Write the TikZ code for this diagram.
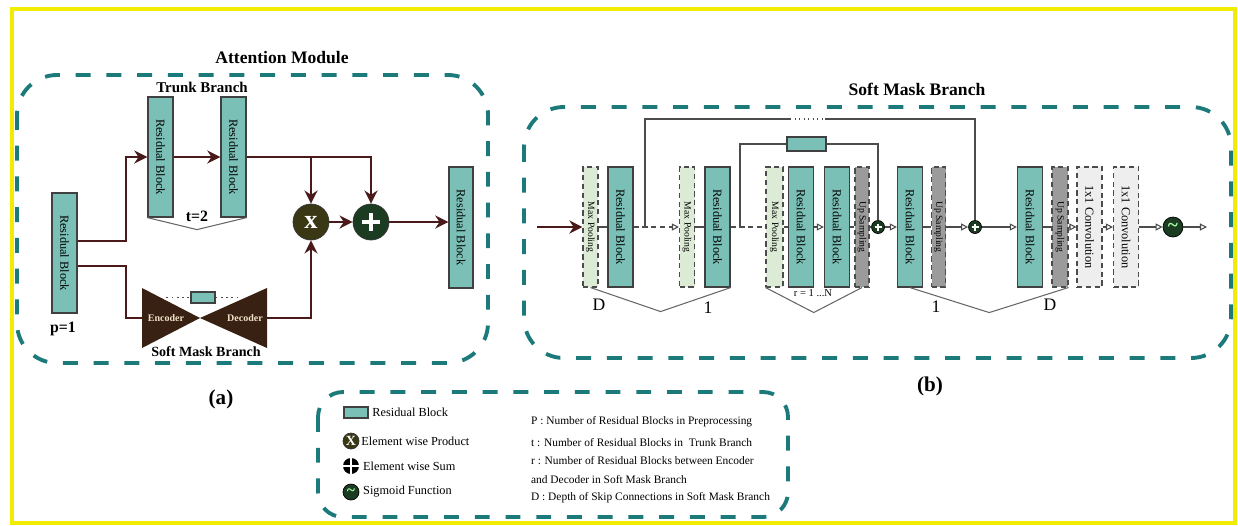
\documentclass[tikz,border=0pt]{standalone}
\usepackage{fontspec}
\setmainfont{Liberation Serif}
\usepackage{graphicx}
\usetikzlibrary{arrows.meta, calc, positioning}

\definecolor{frameyel}{RGB}{242,236,0}
\definecolor{tealdash}{RGB}{28,122,122}
\definecolor{resfill}{RGB}{122,192,182}
\definecolor{poolfill}{RGB}{220,235,214}
\definecolor{upfill}{RGB}{155,155,155}
\definecolor{convfill}{RGB}{238,238,238}
\definecolor{arrowred}{RGB}{74,26,26}
\definecolor{mulfill}{RGB}{58,56,20}
\definecolor{addfill}{RGB}{28,60,34}
\definecolor{encfill}{RGB}{56,32,18}
\definecolor{enctext}{RGB}{240,225,200}

\newcommand{\vtxt}[1]{\rotatebox{-90}{#1}}

\begin{document}
\begin{tikzpicture}[
    x=0.02cm, y=-0.02cm,
    resblk/.style={rectangle, draw=black!75, fill=resfill, line width=0.7pt,
                minimum width=0.5cm, minimum height=2.4cm, inner sep=0pt,
                font=\fontsize{7}{8}\selectfont},
    poolblk/.style={rectangle, draw=black!70, densely dashed, fill=poolfill,
                line width=0.6pt, minimum width=0.3cm, minimum height=2.4cm,
                inner sep=0pt, font=\fontsize{5.5}{6}\selectfont},
    upblk/.style={poolblk, fill=upfill, minimum width=0.28cm},
    convblk/.style={poolblk, fill=convfill, minimum width=0.5cm,
                font=\fontsize{7}{8}\selectfont},
    opcirc/.style={circle, draw=black!80, inner sep=0pt, text=white},
    pluscirc/.style={circle, draw=black, fill=addfill, inner sep=0pt,
                minimum size=0.26cm,
                path picture={\draw[white, line width=0.9pt]
                  ([xshift=-0.07cm]path picture bounding box.center) --
                  ([xshift=0.07cm]path picture bounding box.center)
                  ([yshift=-0.07cm]path picture bounding box.center) --
                  ([yshift=0.07cm]path picture bounding box.center);}},
    sumicon/.style={circle, fill=black, inner sep=0pt, minimum size=0.32cm,
                path picture={\draw[white, line width=1pt]
                  (path picture bounding box.north) -- (path picture bounding box.south)
                  (path picture bounding box.west) -- (path picture bounding box.east);}},
    sigcirc/.style={circle, draw=black, fill=addfill, inner sep=0pt,
                minimum size=0.4cm, text=green!35!white,
                font=\bfseries\fontsize{11}{11}\selectfont},
    outerbox/.style={draw=tealdash, line width=2.2pt,
                dash pattern=on 8.5pt off 9pt, rounded corners=0.8cm},
    conA/.style={-{Stealth[length=7.5pt,width=7.5pt]}, line width=1.1pt, arrowred},
    lineA/.style={line width=1.1pt, arrowred},
    conB/.style={-{Triangle[open,length=4pt,width=4pt]}, line width=0.6pt, black!70},
    lineB/.style={line width=0.6pt, black!70},
    brk/.style={line width=0.6pt, black!60},
    ttl/.style={font=\bfseries\fontsize{10}{12}\selectfont},
    numlbl/.style={font=\fontsize{10}{12}\selectfont, inner sep=0pt},
    lgd/.style={anchor=west, font=\fontsize{6.5}{8}\selectfont, inner sep=1pt},
    lgdl/.style={font=\fontsize{7}{8}\selectfont, inner sep=1pt},
]
\useasboundingbox (0,0) rectangle (1238,525);
\draw[frameyel, line width=2.4pt] (12,9) rectangle (1235,523);

% ---- (a) attention module
\node[ttl] (attTitle) at (282,58) {Attention Module};
\draw[outerbox] (17,75) rectangle (488,363);
\node[ttl, font=\bfseries\fontsize{8.5}{10}\selectfont] (trunkTitle) at (202,87) {Trunk Branch};

\node[resblk] (rbP)  at (64.5,253) {\vtxt{Residual Block}};
\node[resblk] (rbT1) at (160.5,157) {\vtxt{Residual Block}};
\node[resblk] (rbT2) at (233.5,157) {\vtxt{Residual Block}};
\node[resblk, minimum width=0.48cm, minimum height=2.42cm] (rbOut) at (461,227.5)
    {\vtxt{Residual Block}};

\node[opcirc, fill=mulfill, minimum size=0.72cm,
      font=\bfseries\fontsize{15}{15}\selectfont] (mulA) at (311,222) {x};
\node[opcirc, fill=addfill, minimum size=0.72cm] (addA) at (371,222) {};
\draw[white, line width=1.8pt] ($(addA)+(-9,0)$) -- ($(addA)+(9,0)$)
    ($(addA)+(0,-9)$) -- ($(addA)+(0,9)$);

% encoder / decoder
\coordinate (encL) at (142,318);
\coordinate (bowC) at (200,318);
\coordinate (decR) at (267,318);
\fill[encfill] (142,288) -- (bowC) -- (142,348) -- cycle;
\fill[encfill] (267,288) -- (bowC) -- (267,348) -- cycle;
\node[text=enctext, font=\bfseries\fontsize{5.7}{6}\selectfont] (encTxt) at (166,318) {Encoder};
\node[text=enctext, font=\bfseries\fontsize{5.7}{6}\selectfont] (decTxt) at (245,318) {Decoder};
\node[resblk, minimum width=0.48cm, minimum height=0.22cm] (rbMid) at (203,297.5) {};
\draw[black!70, line width=1pt, dotted] ($(rbMid.west)+(-24,0)$) -- (rbMid.west);
\draw[black!70, line width=1pt, dotted] (rbMid.east) -- ++(25,0);

\draw[conA] ($(rbP.east)+(0,-12)$) -- ++(48,0) |- (rbT1.west);
\draw[lineA] ($(rbP.east)+(0,13)$) -- ++(48,0) |- (encL);
\draw[conA] (rbT1) -- (rbT2);
\draw[conA] (rbT2.east) -| (addA.north);
\draw[conA] (rbT2.east -| mulA) -- (mulA.north);
\draw[conA] (mulA) -- (addA);
\draw[conA] (addA) -- (addA -| rbOut.west);
\draw[conA] (decR) -| (mulA.south);

\draw[brk] (rbT1.south west) -- ($(rbT1.south west)!0.5!(rbT2.south east)+(0,12)$)
    -- (rbT2.south east);
\node[font=\bfseries\fontsize{9}{10}\selectfont, inner sep=0pt] (tLbl) at (197,216) {t=2};
\node[font=\bfseries\fontsize{9}{10}\selectfont] (pLbl) at (63,329) {p=1};
\node[ttl, font=\bfseries\fontsize{8}{10}\selectfont] (smaTitle) at (206,352) {Soft Mask Branch};
\node[font=\bfseries\fontsize{12}{14}\selectfont] (aLbl) at (221,399) {(a)};

% ---- (b) soft mask branch
\node[ttl] (smbTitle) at (917,89) {Soft Mask Branch};
\draw[outerbox] (524,107) rectangle (1231,358);

\coordinate (inB) at (537,227);
\node[poolblk] (mp1) at (590.5,227) {\vtxt{Max Pooling}};
\node[resblk]  (rb1) at (620.5,227) {\vtxt{Residual Block}};
\node[poolblk] (mp2) at (687,227) {\vtxt{Max Pooling}};
\node[resblk]  (rb2) at (717.5,227) {\vtxt{Residual Block}};
\node[poolblk, minimum width=0.34cm] (mp3) at (774.5,227) {\vtxt{Max Pooling}};
\node[resblk]  (rb3) at (801,227) {\vtxt{Residual Block}};
\node[resblk]  (rb4) at (837,227) {\vtxt{Residual Block}};
\node[upblk]   (up1) at (862,227) {\vtxt{Up Sampling}};
\node[pluscirc] (plus1) at (878,227) {};
\node[resblk]  (rb5) at (910,227) {\vtxt{Residual Block}};
\node[upblk]   (up2) at (938.5,227) {\vtxt{Up Sampling}};
\node[pluscirc] (plus2) at (975,227) {};
\node[resblk]  (rb6) at (1030,227) {\vtxt{Residual Block}};
\node[upblk, minimum width=0.32cm] (up3) at (1060,227) {\vtxt{Up Sampling}};
\node[convblk] (conv1) at (1089.5,227) {\vtxt{1x1 Convolution}};
\node[convblk] (conv2) at (1126,227) {\vtxt{1x1 Convolution}};
\node[sigcirc] (sigB) at (1173,227) {\textasciitilde};
\coordinate (outB) at (1207,227);

\draw[conA, line width=0.8pt] (inB) -- (mp1.west);
\draw[lineB] (mp1) -- (rb1);
\draw[conB, densely dashed] (rb1) -- (mp2);
\draw[lineB] (mp2) -- (rb2);
\draw[lineB, densely dashed] (rb2) -- (mp3);
\draw[lineB] (mp3) -- (rb3);
\draw[conB] (rb3) -- (rb4);
\draw[lineB] (rb4) -- (up1);
\draw[lineB] (up1) -- (plus1);
\draw[conB] (plus1) -- (rb5);
\draw[lineB] (rb5) -- (up2);
\draw[conB] (up2) -- (plus2);
\draw[conB] (plus2) -- (rb6);
\draw[lineB] (rb6) -- (up3);
\draw[conB] (up3) -- (conv1);
\draw[conB] (conv1) -- (conv2);
\draw[conB] (conv2) -- (sigB);
\draw[conB] (sigB) -- (outB);

% skip connections
\coordinate (skA) at (645,227);
\coordinate (skAtop) at (645,119);
\coordinate (gapL) at (790,119);
\coordinate (gapR) at (825,119);
\draw[lineB] (skA) -- (skAtop) -- (gapL);
\draw[lineB, dotted] (gapL) -- (gapR);
\draw[lineB] (gapR) -| (plus2.north);

\coordinate (skB) at (740,227);
\node[resblk, minimum width=0.78cm, minimum height=0.28cm] (rbSkip) at (806.5,144) {};
\draw[lineB] (skB) |- (rbSkip.west);
\draw[lineB] (rbSkip.east) -| (plus1.north);

% depth brackets
\draw[brk] (mp1.south) -- ($(mp1.south)!0.5!(rb2.south east)+(0,24)$) -- (rb2.south east);
\node[numlbl] (dLbl1) at (599,305) {D};
\node[numlbl] (oneLbl1) at (708,308) {1};
\draw[brk] (mp3.south west) -- ($(mp3.south west)!0.5!(up1.south)+(0,25)$) -- (up1.south);
\node[font=\fontsize{6}{7}\selectfont, inner sep=0pt] (rLbl) at (813,293) {r = 1 ...N};
\draw[brk] (rb5.south) -- ($(rb5.south)!0.5!(up3.south east)+(0,25)$) -- (up3.south east);
\node[numlbl] (oneLbl2) at (936,307) {1};
\node[numlbl] (dLbl2) at (1050,305) {D};

\node[font=\bfseries\fontsize{12}{14}\selectfont] (bLbl) at (930,386) {(b)};

% ---- legend
\draw[outerbox, rounded corners=0.5cm] (318,392) rectangle (788,517);
\node[resblk, minimum width=0.48cm, minimum height=0.22cm] (lgRes) at (356,412.5) {};
\node[lgdl, right=1pt of lgRes] (lgResTxt) {Residual Block};
\node[opcirc, fill=mulfill, minimum size=0.32cm,
      font=\bfseries\fontsize{8}{8}\selectfont] (lgMul) at (351,441) {X};
\node[lgdl, right=0pt of lgMul] (lgMulTxt) {Element wise Product};
\node[sumicon] (lgSum) at (351,466) {};
\node[lgdl, right=1pt of lgSum] (lgSumTxt) {Element wise Sum};
\node[sigcirc, minimum size=0.32cm, font=\bfseries\fontsize{9}{9}\selectfont] (lgSig) at (351,492) {\textasciitilde};
\node[lgdl, right=1pt of lgSig] (lgSigTxt) {Sigmoid Function};

\node[lgd] (lgP)  at (529,422) {P : Number of Residual Blocks in Preprocessing};
\node[lgd] (lgT)  at (529,443) {t : Number of Residual Blocks in\ \ Trunk Branch};
\node[lgd] (lgR)  at (529,461) {r : Number of Residual Blocks between Encoder};
\node[lgd] (lgR2) at (529,480) {and Decoder in Soft Mask Branch};
\node[lgd] (lgD)  at (529,498) {D : Depth of Skip Connections in Soft Mask Branch};
\end{tikzpicture}
\end{document}
